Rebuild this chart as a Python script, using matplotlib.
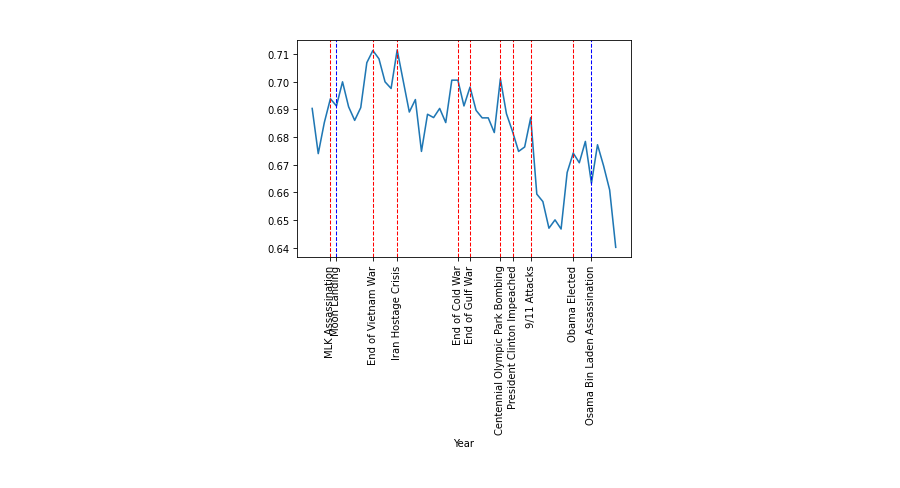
import matplotlib
matplotlib.use("Agg")
import matplotlib.pyplot as plt
from matplotlib.ticker import MultipleLocator

years = list(range(1965, 2016))
values = [0.6903, 0.6740, 0.6852, 0.6938, 0.6912, 0.6999, 0.6909, 0.6860, 0.6906, 0.7068,
          0.7112, 0.7082, 0.6999, 0.6975, 0.7114, 0.7002, 0.6890, 0.6935, 0.6748, 0.6882,
          0.6870, 0.6903, 0.6852, 0.7005, 0.7005, 0.6912, 0.6980, 0.6896, 0.6869, 0.6869,
          0.6816, 0.7010, 0.6884, 0.6820, 0.6748, 0.6764, 0.6870, 0.6594, 0.6567, 0.6471,
          0.6501, 0.6468, 0.6672, 0.6742, 0.6707, 0.6784, 0.6633, 0.6772, 0.6696, 0.6609,
          0.6402]

event_years = [1968, 1969, 1975, 1979, 1989, 1991, 1996, 1998, 2001, 2008, 2011]
event_names = ["MLK Assassination", "Moon Landing", "End of Vietnam War", "Iran Hostage Crisis",
               "End of Cold War", "End of Gulf War", "Centennial Olympic Park Bombing",
               "President Clinton Impeached", "9/11 Attacks", "Obama Elected",
               "Osama Bin Laden Assassination"]
event_colors = ["red", "blue", "red", "red", "red", "red", "red", "red", "red", "red", "blue"]

s = 0.75
plt.rcParams.update({
    "font.size": 7.2,
    "xtick.major.size": 3.5 * s,
    "ytick.major.size": 3.5 * s,
    "xtick.major.width": 0.8 * s,
    "ytick.major.width": 0.8 * s,
    "axes.linewidth": 0.8 * s,
    "xtick.major.pad": 3.5 * s,
    "ytick.major.pad": 3.5 * s,
    "axes.labelpad": 3.5 * s,
})

fig = plt.figure(figsize=(9, 4.89), dpi=100)
ax = fig.add_axes([0.33, 0.472, 0.371, 0.444])
ax.plot(years, values, color="#1f77b4", linewidth=1.5 * s)
for yr, c in zip(event_years, event_colors):
    ax.axvline(yr, color=c, linestyle="--", linewidth=1 * s)
ax.set_xticks(event_years)
ax.set_xticklabels(event_names, rotation=90)
ax.yaxis.set_major_locator(MultipleLocator(0.01))
ax.yaxis.set_major_formatter(matplotlib.ticker.FormatStrFormatter("%.2f"))
ax.set_xlabel("Year")
fig.savefig("out.png", dpi=100)
